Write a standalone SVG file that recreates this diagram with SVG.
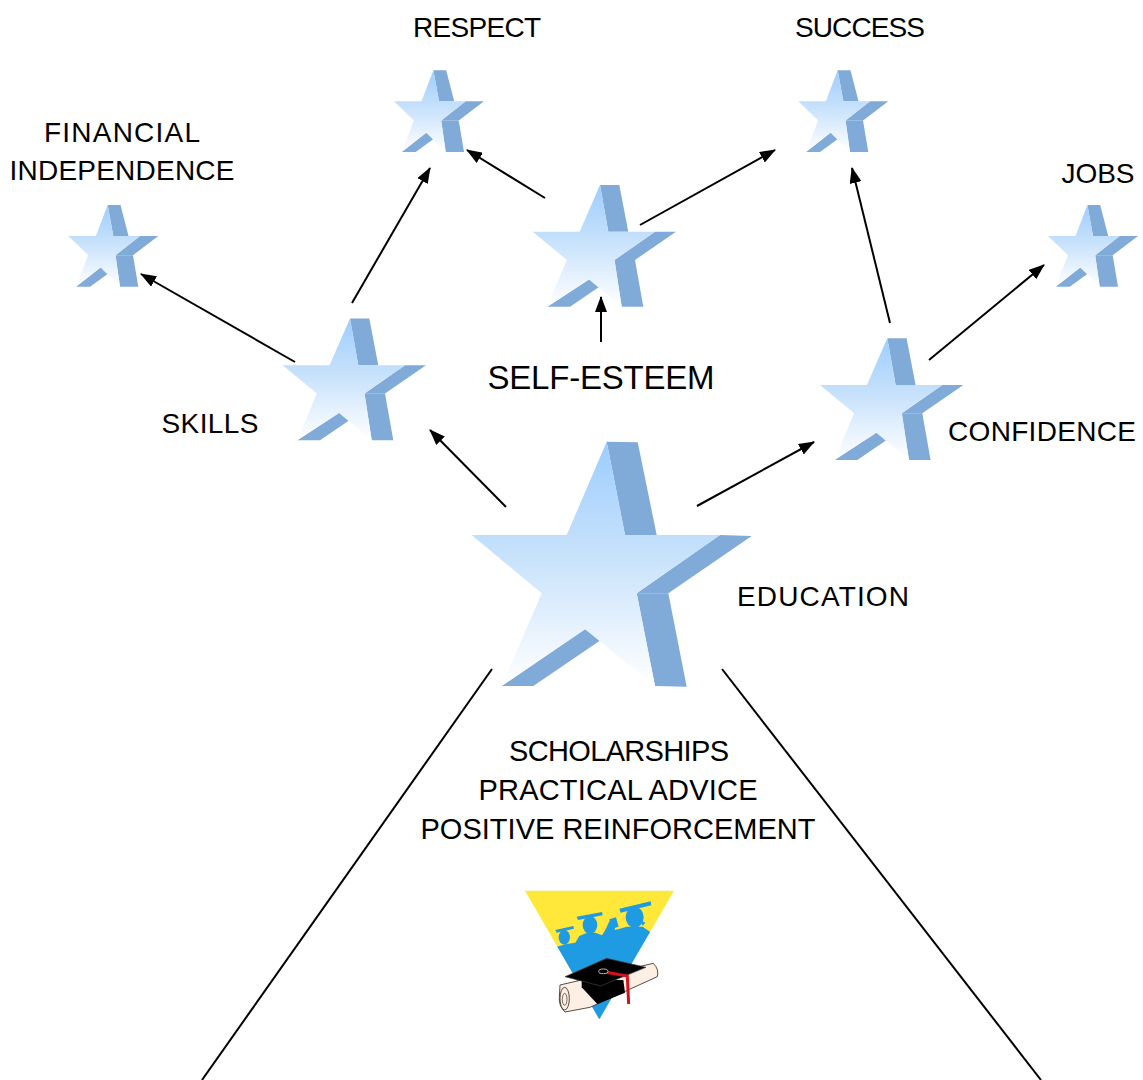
<svg xmlns="http://www.w3.org/2000/svg" xmlns:xlink="http://www.w3.org/1999/xlink" width="1143" height="1080" viewBox="0 0 1143 1080">
<style>
.lbl{font-family:"Liberation Sans",Arial,sans-serif;font-size:28px;fill:#000;text-anchor:middle}
.big{font-size:33px}
.sub{font-size:29px}
.dark{fill:#80AAD8}
.front{fill:url(#sg)}
.conn{stroke:#000;stroke-width:2;fill:none}
.arr{marker-end:url(#ah)}
.sil{fill:#1E9BE3}
</style>
<defs>
<linearGradient id="sg" x1="0" y1="0" x2="0" y2="1">
<stop offset="0" stop-color="#9DCDFF"/>
<stop offset="0.45" stop-color="#C6E1FB"/>
<stop offset="1" stop-color="#FFFFFF"/>
</linearGradient>
<marker id="ah" viewBox="0 0 16 12" refX="15" refY="6" markerWidth="16" markerHeight="12" markerUnits="userSpaceOnUse" orient="auto">
<path d="M0,0 L16,6 L0,12 Z" fill="#000"/>
</marker>
<g id="starL">
<polygon class="dark" points="146.7,11.7 177.7,12.3 196.7,105 165,105"/>
<polygon class="dark" points="260,105 291.7,106 208.3,163.3 176.7,163.3"/>
<polygon class="dark" points="176.7,163.3 208.3,163.3 226.7,256.7 195,256"/>
<polygon class="dark" points="41.7,256 73.3,256 156.7,199.3 125,199.3"/>
<polygon class="front" points="146.7,11.7 165,105 260,105 176.7,163.3 195,256 125,199.3 41.7,256 81.7,163.3 11.7,105 106.7,105"/>
</g>
<g id="starM">
<polygon class="dark" points="80,10 99.3,10 108.3,56.7 88.3,56.7"/>
<polygon class="dark" points="135,56.7 156,56.7 115,85 94.5,85"/>
<polygon class="dark" points="94.5,85 115,85 123.3,131.7 101.7,131.7"/>
<polygon class="dark" points="27.3,131.7 50,131.7 90,104.5 69,104.5"/>
<polygon class="front" points="80,10 88.3,56.7 135,56.7 94.5,85 101.7,131.7 69,104.5 27.3,131.7 46.8,85 12.7,56.7 59.6,56.7"/>
</g>
<g id="starS">
<polygon class="dark" points="47.7,8.3 60.5,8.3 68.5,39.3 53.3,39.3"/>
<polygon class="dark" points="80,39.3 98.3,39.3 73,58.5 55.5,58.5"/>
<polygon class="dark" points="55.5,58.5 73,58.5 78.3,90 60,90"/>
<polygon class="dark" points="16,90 30,90 56.5,70.8 40.5,70.8"/>
<polygon class="front" points="47.7,8.3 53.3,39.3 80,39.3 55.5,58.5 60,90 40.5,70.8 16,90 28.2,58.5 8.3,39.3 35.8,39.3"/>
</g>
<clipPath id="tri">
<polygon points="45,32 492,32 268,418"/>
</clipPath>
</defs>
<rect width="1143" height="1080" fill="#fff"/>

<g id="connectors">
<line class="conn arr" x1="506" y1="507" x2="430" y2="430"/>
<line class="conn arr" x1="697" y1="506" x2="814" y2="442"/>
<line class="conn arr" x1="295" y1="362" x2="141" y2="274"/>
<line class="conn arr" x1="352" y1="303" x2="430" y2="168"/>
<line class="conn arr" x1="545" y1="198" x2="467" y2="150"/>
<line class="conn arr" x1="640" y1="225" x2="775" y2="150"/>
<line class="conn arr" x1="601" y1="342" x2="601" y2="297"/>
<line class="conn arr" x1="890" y1="323" x2="852" y2="168"/>
<line class="conn arr" x1="929" y1="360" x2="1044" y2="265"/>
<line class="conn" x1="492" y1="669" x2="202" y2="1080"/>
<line class="conn" x1="722" y1="669" x2="1041" y2="1080"/>
</g>

<g id="education">
<use xlink:href="#starL" transform="translate(460 430)"/>
<text class="lbl" x="823" y="606" textLength="172">EDUCATION</text>
</g>
<g id="self-esteem">
<use xlink:href="#starM" transform="translate(520 175)"/>
<text class="lbl big" x="601" y="389" textLength="227">SELF-ESTEEM</text>
</g>
<g id="skills">
<use xlink:href="#starM" transform="translate(270 308.5)"/>
<text class="lbl" x="210" y="433" textLength="97">SKILLS</text>
</g>
<g id="confidence">
<use xlink:href="#starM" transform="translate(807.3 328.3)"/>
<text class="lbl" x="1042" y="441" textLength="188">CONFIDENCE</text>
</g>
<g id="respect">
<use xlink:href="#starS" transform="translate(385.7 62)"/>
<text class="lbl" x="477" y="37" textLength="128">RESPECT</text>
</g>
<g id="success">
<use xlink:href="#starS" transform="translate(790 62)"/>
<text class="lbl" x="860" y="37" textLength="130">SUCCESS</text>
</g>
<g id="financial-independence">
<use xlink:href="#starS" transform="translate(60 196.7)"/>
<text class="lbl" x="122" y="142" textLength="156">FINANCIAL</text>
<text class="lbl" x="122" y="180" textLength="225">INDEPENDENCE</text>
</g>
<g id="jobs">
<use xlink:href="#starS" transform="translate(1039.7 196.7)"/>
<text class="lbl" x="1098" y="183" textLength="73">JOBS</text>
</g>

<g id="means">
<text class="lbl sub" x="619" y="761" textLength="220">SCHOLARSHIPS</text>
<text class="lbl sub" x="618" y="800" textLength="279">PRACTICAL ADVICE</text>
<text class="lbl sub" x="618" y="839" textLength="395">POSITIVE REINFORCEMENT</text>
</g>

<g id="logo" transform="translate(510 880) scale(0.3333)">
<polygon points="45,32 492,32 268,418" fill="#FFE83A"/>
<g clip-path="url(#tri)">
<path class="sil" d="M60,260 L128,222 L140,200 L170,192 L196,188 L208,168 L232,158 L256,158 L276,166 L286,150 L298,124 L318,128 L314,150 L330,146 L350,140 L398,140 L424,158 L500,168 L500,450 L60,450 Z"/>
<ellipse class="sil" cx="163" cy="172" rx="17" ry="22"/>
<polygon class="sil" points="136,150 190,138 192,146 140,158"/>
<ellipse class="sil" cx="240" cy="135" rx="22" ry="27"/>
<polygon class="sil" points="200,110 276,96 278,106 204,120"/>
<polygon class="sil" points="298,118 318,112 326,140 306,146"/>
<ellipse class="sil" cx="374" cy="112" rx="27" ry="32"/>
<polygon class="sil" points="328,86 422,64 424,76 332,98"/>
<polygon class="sil" points="392,120 406,128 398,138"/>
</g>
<path d="M150,315 L430,250 Q448,268 442,290 L240,382 L165,396 Q146,378 148,352 Z" fill="#FDEFE3" stroke="#3A2A20" stroke-width="2.5"/>
<ellipse cx="164" cy="356" rx="14" ry="34" fill="#FDEFE3" stroke="#3A2A20" stroke-width="2.5"/>
<ellipse cx="164" cy="358" rx="7" ry="18" fill="none" stroke="#3A2A20" stroke-width="2"/>
<polygon points="215,300 340,300 345,338 262,372 215,322" fill="#000"/>
<polygon points="165,290 290,235 408,262 272,318" fill="#000" stroke="#444" stroke-width="2"/>
<path d="M280,275 L352,288 L356,372" fill="none" stroke="#D6101C" stroke-width="9"/>
<ellipse cx="280" cy="274" rx="14" ry="7" fill="#000" stroke="#DDD" stroke-width="2.5"/>
</g>
</svg>
